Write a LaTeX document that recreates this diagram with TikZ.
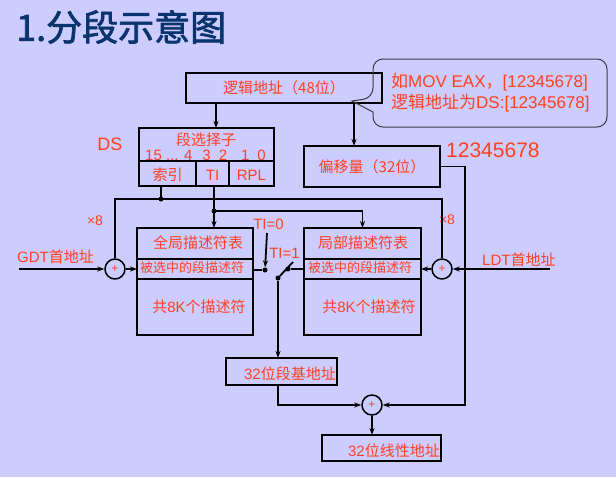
\documentclass[tikz,border=0pt]{standalone}
\usepackage{fontspec}
\setmainfont{Noto Sans CJK SC}[AutoFakeBold=2]
\newfontfamily\arialfont{Liberation Sans}
\usepackage{tikz}
\usetikzlibrary{arrows.meta}
\definecolor{lavender}{RGB}{204,204,255}
\definecolor{hotred}{RGB}{255,64,32}
\definecolor{navy}{RGB}{10,52,110}
\definecolor{calloutgray}{RGB}{60,60,70}
\newcommand{\en}[1]{{\arialfont #1}}
\newcommand{\fsz}[1]{\fontsize{#1}{#1}\selectfont}
\tikzset{
  blk/.style={draw=black,line width=2.2pt,inner sep=0pt,outer sep=0pt},
  lbl/.style={text=hotred,font=\fsz{15},inner sep=0pt},
  enlbl/.style={lbl,font=\arialfont\fsz{15}},
  wire/.style={line width=1.8pt,black},
  arr/.style={wire,-{Stealth[length=7pt,width=5pt]}},
  adder/.style={circle,draw=black,line width=1.5pt,minimum size=20pt,inner sep=0pt,
                text=hotred,font=\arialfont\fsz{12}},
  jdot/.style={circle,fill=black,inner sep=0pt,minimum size=5pt},
  callout/.style={draw=calloutgray,line width=1pt,rounded corners=10pt}
}

\begin{document}
\begin{tikzpicture}[x=1pt,y=-1pt]
    \fill[lavender] (0,0) rectangle (616,477);
    \useasboundingbox (0,0) rectangle (616,477);
    % --- title
    \node[anchor=west,inner sep=0pt,text=navy,font=\fsz{36}\bfseries] (title) at (16,27) {1.分段示意图};
    % --- logical address, note
    \node[blk,lbl,minimum width=196pt,minimum height=30pt] (addr) at (284,88) {逻辑地址（48位）};
    \draw[callout] (490,59) -- (373,59) -- (373,98) [sharp corners] -- (352,101) -- (373,112)
      [rounded corners=10pt] -- (373,127) -- (607,127) -- (607,59) -- cycle;
    \node[lbl,font=\fontsize{17}{21}\selectfont,align=left,anchor=west] (note) at (391,93)
      {如\en{MOV EAX}，\en{[12345678]}\\逻辑地址为\en{DS:[12345678]}};
    % --- selector
    \node[blk,minimum width=135pt,minimum height=58pt] (sel) at (206.5,157) {};
    \draw[blk] (139,161) -- (274,161) (196,161) -- (196,186) (229,161) -- (229,186);
    \node[lbl] (selname) at (206,140) {段选择子};
    \node[enlbl,anchor=west] (bits) at (145,155)
      {15 ... 4\hspace{10pt}3\hspace{8pt}2\hspace{14pt}1\hspace{8pt}0};
    \node[lbl] (idx) at (167.5,175) {索引};
    \node[enlbl] (ti) at (212.5,175) {TI};
    \node[enlbl] (rpl) at (251.5,175) {RPL};
    \node[enlbl,font=\arialfont\fsz{18}] (ds) at (110,144) {DS};
    % --- offset
    \node[blk,lbl,minimum width=136pt,minimum height=41pt] (off) at (372,166.5) {偏移量（32位）};
    \node[enlbl,font=\arialfont\fsz{21},anchor=west] (offval) at (446,150) {12345678};
    % --- descriptor tables
    \node[blk,minimum width=116pt,minimum height=107pt] (gdt) at (195,281.5) {};
    \draw[blk] (137,259) -- (253,259) (137,279) -- (253,279);
    \node[lbl] (gdtname) at (198,243) {全局描述符表};
    \node[lbl,font=\fsz{13}] (gdtsel) at (192,268) {被选中的段描述符};
    \node[lbl] (gdtall) at (199,307) {共\en{8K}个描述符};
    \node[blk,minimum width=117pt,minimum height=107pt] (ldt) at (362.5,281.5) {};
    \draw[blk] (304,259) -- (421,259) (304,279) -- (421,279);
    \node[lbl] (ldtname) at (363,243) {局部描述符表};
    \node[lbl,font=\fsz{13}] (ldtsel) at (360,268) {被选中的段描述符};
    \node[lbl] (ldtall) at (369,307) {共\en{8K}个描述符};
    % --- adders
    \node[adder] (gadd) at (115,269) {+};
    \node[adder] (ladd) at (442,269) {+};
    \node[adder] (badd) at (372,405) {+};
    \node[lbl,anchor=west] (gdtbase) at (17,257) {\en{GDT}首地址};
    \node[lbl,anchor=west] (ldtbase) at (482,260) {\en{LDT}首地址};
    \node[enlbl,font=\arialfont\fsz{14}] (gx8) at (95,221) {×8};
    \node[enlbl,font=\arialfont\fsz{14}] (lx8) at (447,220) {×8};
    % --- switch
    \node[jdot] (s0) at (265,270) {};
    \node[jdot] (s1) at (288,269) {};
    \node[jdot] (piv) at (278,278) {};
    \coordinate (tip) at (293,262);
    \coordinate (ti0from) at (267,233);
    \node[enlbl] (ti0) at (268.5,224) {TI=0};
    \node[enlbl] (ti1) at (284.5,253) {TI=1};
    % --- base, linear
    \node[blk,minimum width=111pt,minimum height=27pt] (base) at (281.5,371.5) {};
    \node[lbl,anchor=east] (basetxt) at (336,374) {\en{32}位段基地址};
    \node[blk,minimum width=119pt,minimum height=26pt] (lina) at (381.5,448) {};
    \node[lbl,anchor=east] (linatxt) at (440,451) {\en{32}位线性地址};
    % --- wires
    \draw[arr] (addr.south -| 216,0) -- (sel.north -| 216,0);
    \draw[arr] (addr.south -| 354,0) -- (off.north -| 354,0);
    \coordinate (ixj) at (161,199);
    \node[jdot] (ixdot) at (ixj) {};
    \draw[wire] (sel.south -| ixj) -- (ixj);
    \draw[wire] (gadd.north) |- (ixj) -| (ladd.north);
    \coordinate (tij) at (214,211);
    \node[jdot] (tidot) at (tij) {};
    \draw[wire] (sel.south -| tij) -- (tij);
    \draw[arr] (tij) -- (gdt.north -| tij);
    \draw[arr] (tij) -| (ldt.north);
    \coordinate (gdtin) at (19,269);
    \coordinate (ldtin) at (550,269);
    \draw[arr] (gdtin) -- (gadd);
    \draw[arr] (gadd) -- (gadd -| gdt.west);
    \draw[arr] (ldtin) -- (ladd);
    \draw[arr] (ladd) -- (ladd -| ldt.east);
    \draw[wire] (s0 -| gdt.east) -- (s0);
    \draw[wire] (s1 -| ldt.west) -- (s1);
    \draw[wire] (piv) -- (tip);
    \draw[arr] (ti0from) -- (s0);
    \draw[arr] (piv) -- (base.north -| piv);
    \draw[arr] (base.south -| piv) |- (badd);
    \draw[arr] (off.east) -- ++(25,0) |- (badd);
    \draw[arr] (badd) -- (lina.north -| badd);
  \end{tikzpicture}
\end{document}
